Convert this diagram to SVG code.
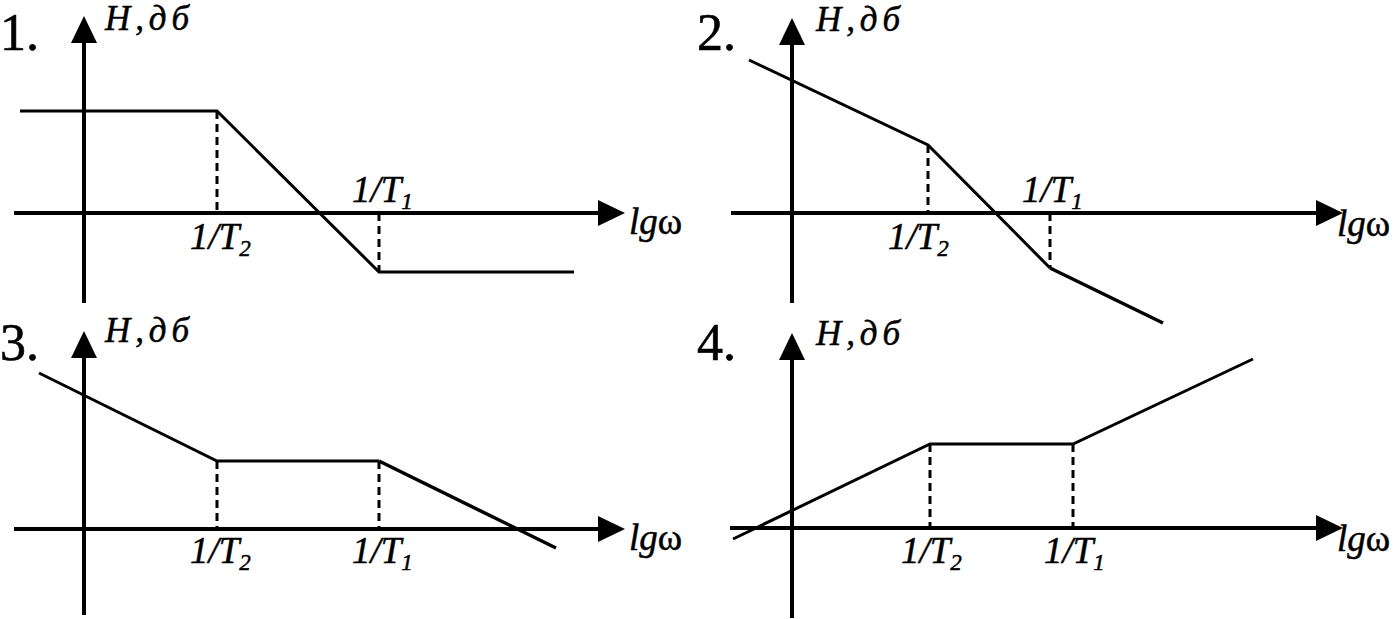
<svg xmlns="http://www.w3.org/2000/svg" width="1399" height="619" viewBox="0 0 1399 619">
<style>
.ax{stroke:#000;stroke-width:4;fill:none;marker-end:url(#arr)}
.ln{stroke:#000;stroke-width:3;fill:none;stroke-linejoin:miter}
.ds{stroke:#000;stroke-width:3;stroke-dasharray:8 5;fill:none}
.num{font-family:"Liberation Serif","Times New Roman",serif;font-size:52px;fill:#000;stroke:#000;stroke-width:0.6}
.it{font-family:"Liberation Serif","Times New Roman",serif;font-style:italic;font-size:37px;fill:#000;stroke:#000;stroke-width:0.5}
.hd{font-size:35px}
.sub{font-size:23px}
.up{font-style:normal}
</style>
<defs>
<marker id="arr" markerUnits="userSpaceOnUse" markerWidth="28" markerHeight="28" refX="0" refY="13" orient="auto" viewBox="0 0 28 26">
<path d="M0,0 L27,13 L0,26 z" fill="#000"/>
</marker>
</defs>
<rect width="1399" height="619" fill="#fff"/>

<g id="panel1">
<text class="num" x="0" y="50">1.</text>
<line class="ax" x1="84" y1="303" x2="84" y2="43"/>
<line class="ax" x1="14" y1="213" x2="598" y2="213"/>
<text class="it hd" x="105" y="30" textLength="84" lengthAdjust="spacing">H,дб</text>
<text class="it" x="629" y="234">lg<tspan class="up">ω</tspan></text>
<polyline class="ln" points="20,111 217,111 379,272 574,272"/>
<line class="ds" x1="217" y1="111" x2="217" y2="213"/>
<line class="ds" x1="379" y1="213" x2="379" y2="272"/>
<text class="it" x="190" y="249">1/T<tspan class="sub" dy="7">2</tspan></text>
<text class="it" x="352" y="202">1/T<tspan class="sub" dy="7">1</tspan></text>
</g>

<g id="panel2">
<text class="num" x="697" y="50">2.</text>
<line class="ax" x1="792" y1="303" x2="792" y2="45"/>
<line class="ax" x1="731" y1="213" x2="1316" y2="213"/>
<text class="it hd" x="816" y="31" textLength="84" lengthAdjust="spacing">H,дб</text>
<text class="it" x="1337" y="236">lg<tspan class="up">ω</tspan></text>
<polyline class="ln" points="749,60 928,145 1050,268"/>
<line class="ln" x1="1050" y1="268" x2="1163" y2="323" style="stroke-width:3.5"/>
<line class="ds" x1="928" y1="145" x2="928" y2="213"/>
<line class="ds" x1="1050" y1="213" x2="1050" y2="268"/>
<text class="it" x="888" y="249">1/T<tspan class="sub" dy="7">2</tspan></text>
<text class="it" x="1022" y="202">1/T<tspan class="sub" dy="7">1</tspan></text>
</g>

<g id="panel3">
<text class="num" x="0" y="360">3.</text>
<line class="ax" x1="84" y1="615" x2="84" y2="358"/>
<line class="ax" x1="14" y1="529" x2="598" y2="529"/>
<text class="it hd" x="105" y="342" textLength="84" lengthAdjust="spacing">H,дб</text>
<text class="it" x="629" y="550">lg<tspan class="up">ω</tspan></text>
<polyline class="ln" points="39,373 217,461 379,461"/>
<line class="ln" x1="379" y1="461" x2="556" y2="548" style="stroke-width:3.5"/>
<line class="ds" x1="217" y1="461" x2="217" y2="529"/>
<line class="ds" x1="379" y1="461" x2="379" y2="529"/>
<text class="it" x="190" y="563">1/T<tspan class="sub" dy="7">2</tspan></text>
<text class="it" x="352" y="563">1/T<tspan class="sub" dy="7">1</tspan></text>
</g>

<g id="panel4">
<text class="num" x="697" y="360">4.</text>
<line class="ax" x1="792" y1="618" x2="792" y2="360"/>
<line class="ax" x1="730" y1="528" x2="1316" y2="528"/>
<text class="it hd" x="816" y="345" textLength="84" lengthAdjust="spacing">H,дб</text>
<text class="it" x="1337" y="551">lg<tspan class="up">ω</tspan></text>
<polyline class="ln" points="733,539 930,444 1073,444 1253,359"/>
<line class="ds" x1="930" y1="444" x2="930" y2="528"/>
<line class="ds" x1="1073" y1="444" x2="1073" y2="528"/>
<text class="it" x="901" y="563">1/T<tspan class="sub" dy="7">2</tspan></text>
<text class="it" x="1044" y="563">1/T<tspan class="sub" dy="7">1</tspan></text>
</g>
</svg>
